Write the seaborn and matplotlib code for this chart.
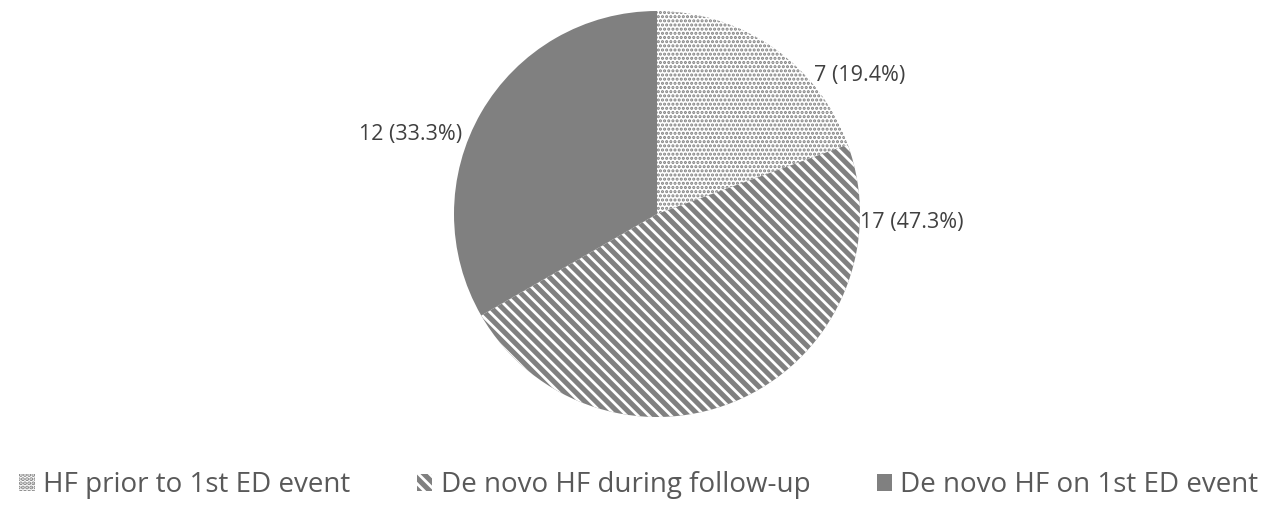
import matplotlib
matplotlib.use("Agg")
import matplotlib.pyplot as plt
import seaborn as sns

sns.set_theme(style="white")
plt.rcParams["font.family"] = ["Open Sans", "DejaVu Sans"]

# Heart-failure timing groups
categories = ["HF prior to 1st ED event", "De novo HF during follow-up", "De novo HF on 1st ED event"]
counts = [7, 17, 12]
percents = [19.4, 47.3, 33.3]

GRAY = "#808080"
TEXT = "#404040"

fig = plt.figure(figsize=(12.78, 5.18), dpi=100)
ax = fig.add_axes([454 / 1278, 1 - 417 / 518, 406 / 1278, 406 / 518])

plt.rcParams["hatch.linewidth"] = 2.0
wedges, _ = ax.pie(counts, startangle=90, counterclock=False, radius=1.0,
                   wedgeprops=dict(linewidth=0))
styles = [
    dict(facecolor="white", edgecolor=GRAY, hatch="...."),
    dict(facecolor=GRAY, edgecolor="white", hatch="\\\\\\"),
    dict(facecolor=GRAY, edgecolor=GRAY, hatch=None),
]
for w, st in zip(wedges, styles):
    w.set_facecolor(st["facecolor"])
    w.set_edgecolor(st["edgecolor"])
    w.set_hatch(st["hatch"])
    w.set_linewidth(0)
if hasattr(wedges[0], "set_hatch_linewidth"):
    wedges[0].set_hatch_linewidth(1.5)
    wedges[1].set_hatch_linewidth(2.0)

ax.set_xlim(-1, 1)
ax.set_ylim(-1, 1)
ax.axis("off")

# data labels
label_pos = [(1.0, 0.68, "center"), (1.0, -0.04, "left"), (-0.96, 0.39, "right")]
for (x, y, ha), c, p in zip(label_pos, counts, percents):
    ax.text(x, y, f"{c} ({p:.1f}%)", ha=ha, va="center", fontsize=15.5, color=TEXT)

leg = fig.legend(wedges, categories, loc="center", bbox_to_anchor=(0.5, 1 - 485 / 518),
                 ncol=3, frameon=False, fontsize=20, handlelength=0.55, handleheight=0.55,
                 handletextpad=0.3, columnspacing=2.4, labelcolor="#595959")

fig.savefig("out.png", dpi=100)
